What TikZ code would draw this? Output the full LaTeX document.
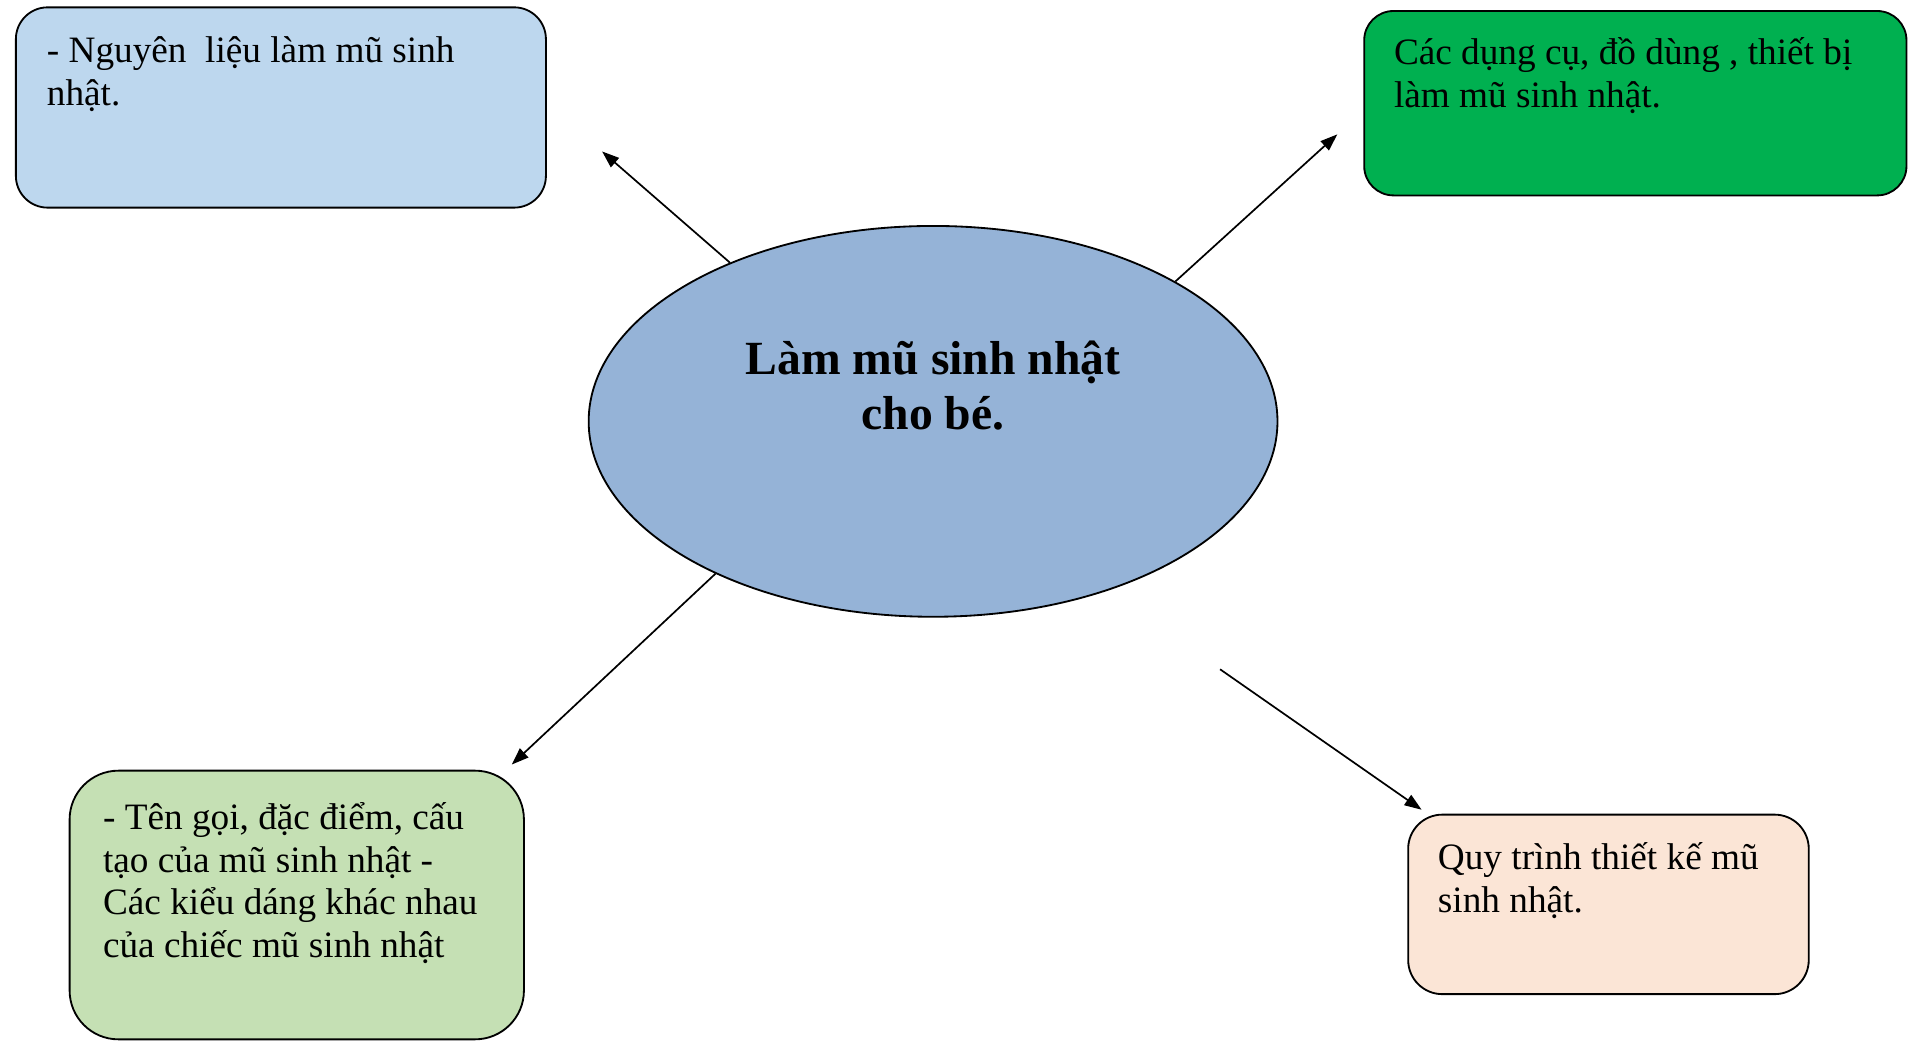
\documentclass[tikz,border=0pt]{standalone}
\usepackage{fontspec}
\setmainfont{Liberation Serif}
\usetikzlibrary{shapes.geometric, arrows.meta}
\definecolor{paleblue}{HTML}{BDD7EE}
\definecolor{toolgreen}{HTML}{00B050}
\definecolor{palegreen}{HTML}{C5E0B4}
\definecolor{peach}{HTML}{FBE5D6}
\definecolor{hubblue}{HTML}{95B3D7}
\tikzset{
    card/.style={draw=black, line width=0.75pt, inner sep=0pt},
    cardtext/.style={anchor=base west, inner sep=0pt, align=left, font=\fontsize{15.25}{17.5}\selectfont},
    topic/.style={ellipse, draw=black, line width=0.75pt, fill=hubblue, inner sep=0pt, minimum width=282pt, minimum height=160pt},
    link/.style={line width=0.7pt, -{Triangle[length=7pt, width=5pt]}},
}

\begin{document}
\begin{tikzpicture}[x=0.5pt, y=-0.5pt]
    \useasboundingbox (0,0) rectangle (1568,853);
    % centre
    \node[topic] (topic) at (764,345) {};
    \node[anchor=base, inner sep=0pt, align=center, font=\fontsize{19.5}{22.5}\selectfont\bfseries] (topictext) at (764,352) {Làm mũ sinh nhật\\cho bé.};
    % the four cards
    \node[card, fill=paleblue, rounded corners=13pt, minimum width=217pt, minimum height=82pt] (materials) at (230,88) {};
    \node[cardtext] (materialstext) at (38,86) {- Nguyên\ \ liệu làm mũ sinh\\nhật.};
    \node[card, fill=toolgreen, rounded corners=12pt, minimum width=222pt, minimum height=75.5pt] (tools) at (1339,84.5) {};
    \node[cardtext] (toolstext) at (1141,88) {Các dụng cụ, đồ dùng , thiết bị\\làm mũ sinh nhật.};
    \node[card, fill=palegreen, rounded corners=20pt, minimum width=186pt, minimum height=110pt] (features) at (243,741) {};
    \node[cardtext] (featurestext) at (84,784) {- Tên gọi, đặc điểm, cấu\\tạo của mũ sinh nhật -\\Các kiểu dáng khác nhau\\của chiếc mũ sinh nhật};
    \node[card, fill=peach, rounded corners=14pt, minimum width=164pt, minimum height=73.5pt] (design) at (1317,740.5) {};
    \node[cardtext] (designtext) at (1177,747) {Quy trình thiết kế mũ\\sinh nhật.};
    % arrows
    \coordinate (materialstip) at (493,124);
    \coordinate (toolstip) at (1095,110);
    \coordinate (featurestip) at (419,626);
    \coordinate (designtail) at (999,548);
    \coordinate (designtip) at (1164,663);
    \draw[link] (topic.142) -- (materialstip);
    \draw[link] (topic.30) -- (toolstip);
    \draw[link] (topic.215) -- (featurestip);
    \draw[link] (designtail) -- (designtip);
\end{tikzpicture}
\end{document}
